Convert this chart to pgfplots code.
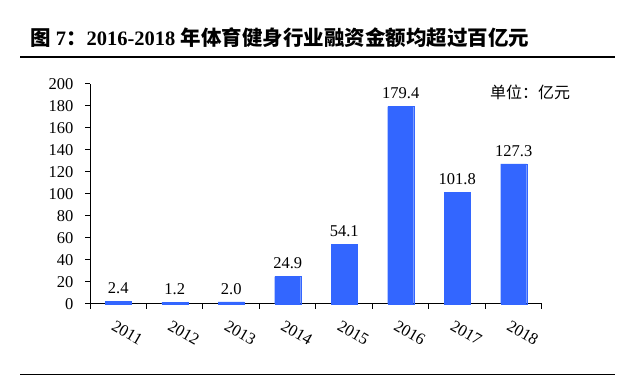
\documentclass[border=0pt]{standalone}
\usepackage{pgfplots}
\pgfplotsset{compat=1.18}
\usepackage{fontspec}
\setmainfont{Liberation Serif}
\newfontfamily\cjk{Noto Sans CJK SC}
\definecolor{barblue}{RGB}{51,102,255}
\begin{document}
\begin{tikzpicture}[x=1pt,y=1pt]
\useasboundingbox (0,0) rectangle (640,377);
% title
\node[anchor=west,inner sep=0pt] at (30,339) {\fontsize{20.5}{24}\selectfont\bfseries{\cjk 图} 7{\cjk ：}2016-2018 {\cjk 年体育健身行业融资金额均超过百亿元}};
\draw[line width=1.5pt] (20,320) -- (615,320);
\draw[line width=1pt] (20,2) -- (615,2);
\begin{axis}[
  at={(90pt,73pt)}, anchor=south west,
  scale only axis, width=452pt, height=220pt,
  xmin=-0.5, xmax=7.5, ymin=0, ymax=200,
  axis x line=bottom, axis y line=left,
  axis line style={-, line width=1pt},
  tick align=outside, major tick length=5pt,
  tick style={line width=1pt, black},
  xtick={-0.5,0.5,...,7.5},
  x tick label as interval,
  xticklabels={2011,2012,2013,2014,2015,2016,2017,2018},
  ytick={0,20,...,200},
  /pgf/number format/assume math mode=true,
  ticklabel style={font=\fontsize{16.5}{18}\selectfont},
  xticklabel style={xshift=9pt, yshift=-24pt, rotate=-30, anchor=center},
  yticklabel style={xshift=-8pt},
  ybar, bar width=26pt,
  nodes near coords,
  nodes near coords style={font=\fontsize{16.5}{18}\selectfont, /pgf/number format/fixed, /pgf/number format/fixed zerofill, /pgf/number format/precision=1, yshift=4pt},
  clip=false,
]
\addplot[fill=barblue, draw=barblue] coordinates {(0,2.4) (1,1.2) (2,2.0) (3,24.9) (4,54.1) (5,179.4) (6,101.8) (7,127.3)};
\end{axis}
\node[anchor=west,inner sep=0pt] at (490,285) {\fontsize{16}{18}\selectfont\cjk 单位：亿元};
\end{tikzpicture}
\end{document}
